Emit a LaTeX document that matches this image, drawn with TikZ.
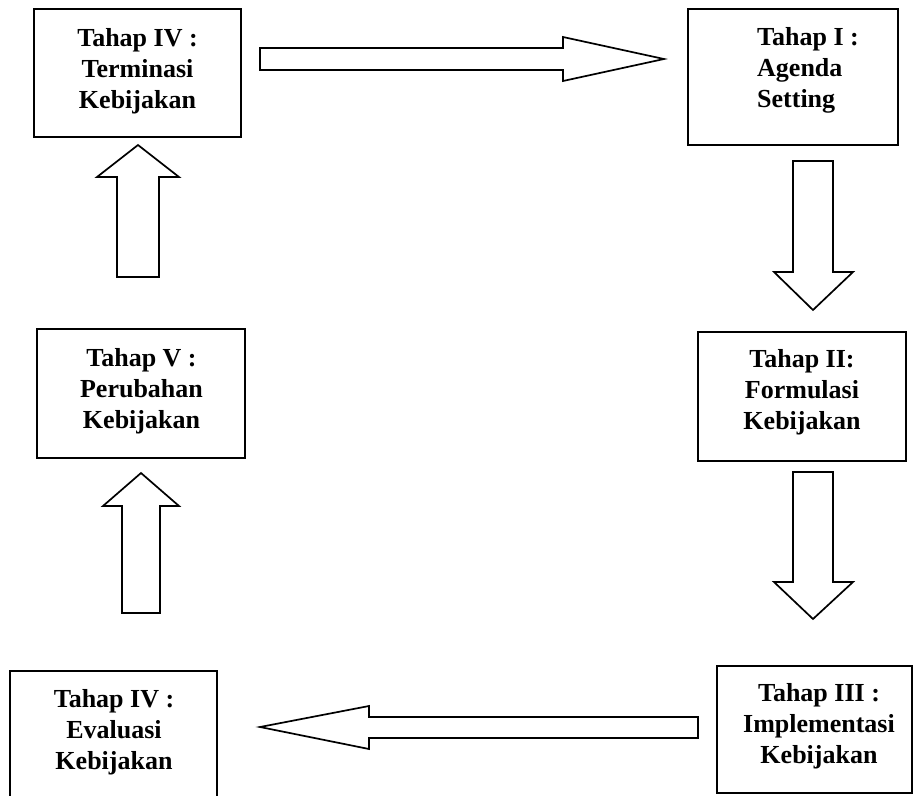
\documentclass[tikz,border=0pt]{standalone}
\usepackage{fontspec}
\setmainfont{Liberation Serif}
\begin{document}
\begin{tikzpicture}[x=1pt,y=-1pt,
  stagebox/.style={draw=black, line width=1.8pt, fill=white, inner sep=0pt},
  stagetext/.style={font=\fontsize{26}{31}\selectfont\bfseries, align=center, inner sep=0pt},
  blockarrow/.style={draw=black, line width=1.7pt, fill=white, line join=miter}]
\useasboundingbox (0,0) rectangle (914,796);
\clip (0,0) rectangle (914,796);
\fill[white] (0,0) rectangle (914,796);

% stage boxes
\node[stagebox, minimum width=207pt, minimum height=128pt] (term)   at (137.5,73)   {};
\node[stagebox, minimum width=210pt, minimum height=136pt] (agenda) at (793,77)     {};
\node[stagebox, minimum width=208pt, minimum height=129pt] (formul) at (802,396.5)  {};
\node[stagebox, minimum width=208pt, minimum height=129pt] (perub)  at (141,393.5)  {};
\node[stagebox, minimum width=207pt, minimum height=139pt] (evalu)  at (113.5,740.5) {};
\node[stagebox, minimum width=195pt, minimum height=127pt] (impl)   at (814.5,729.5) {};

% stage labels
\node[stagetext, anchor=north] (termtxt) at (137.5,28) {Tahap IV :\\Terminasi\\Kebijakan};
\node[stagetext, anchor=north west, align=left] (agendatxt) at (757,27) {Tahap I :\\Agenda\\Setting};
\node[stagetext, anchor=north] (formultxt) at (802,349) {Tahap II:\\Formulasi\\Kebijakan};
\node[stagetext, anchor=north] (perubtxt) at (141.5,348) {Tahap V :\\Perubahan\\Kebijakan};
\node[stagetext, anchor=north] (evalutxt) at (114,689) {Tahap IV :\\Evaluasi\\Kebijakan};
\node[stagetext, anchor=north] (impltxt) at (819,683) {Tahap III :\\Implementasi\\Kebijakan};

% block arrows between the stages
% Terminasi -> Agenda Setting
\draw[blockarrow] (260,48) -- (563,48) -- (563,37) -- (664,59) -- (563,81) -- (563,70) -- (260,70) -- cycle;
% Agenda Setting -> Formulasi
\draw[blockarrow] (793,161) -- (833,161) -- (833,272) -- (853,272) -- (813,310) -- (774,272) -- (793,272) -- cycle;
% Formulasi -> Implementasi
\draw[blockarrow] (793,472) -- (833,472) -- (833,582) -- (853,582) -- (813,619) -- (774,582) -- (793,582) -- cycle;
% Implementasi -> Evaluasi
\draw[blockarrow] (698,717) -- (369,717) -- (369,706) -- (260,727) -- (369,749) -- (369,738) -- (698,738) -- cycle;
% Evaluasi -> Perubahan
\draw[blockarrow] (122,613) -- (122,506) -- (103,506) -- (141,473) -- (179,506) -- (160,506) -- (160,613) -- cycle;
% Perubahan -> Terminasi
\draw[blockarrow] (117,277) -- (117,177) -- (97,177) -- (138,145) -- (179,177) -- (159,177) -- (159,277) -- cycle;
\end{tikzpicture}
\end{document}
